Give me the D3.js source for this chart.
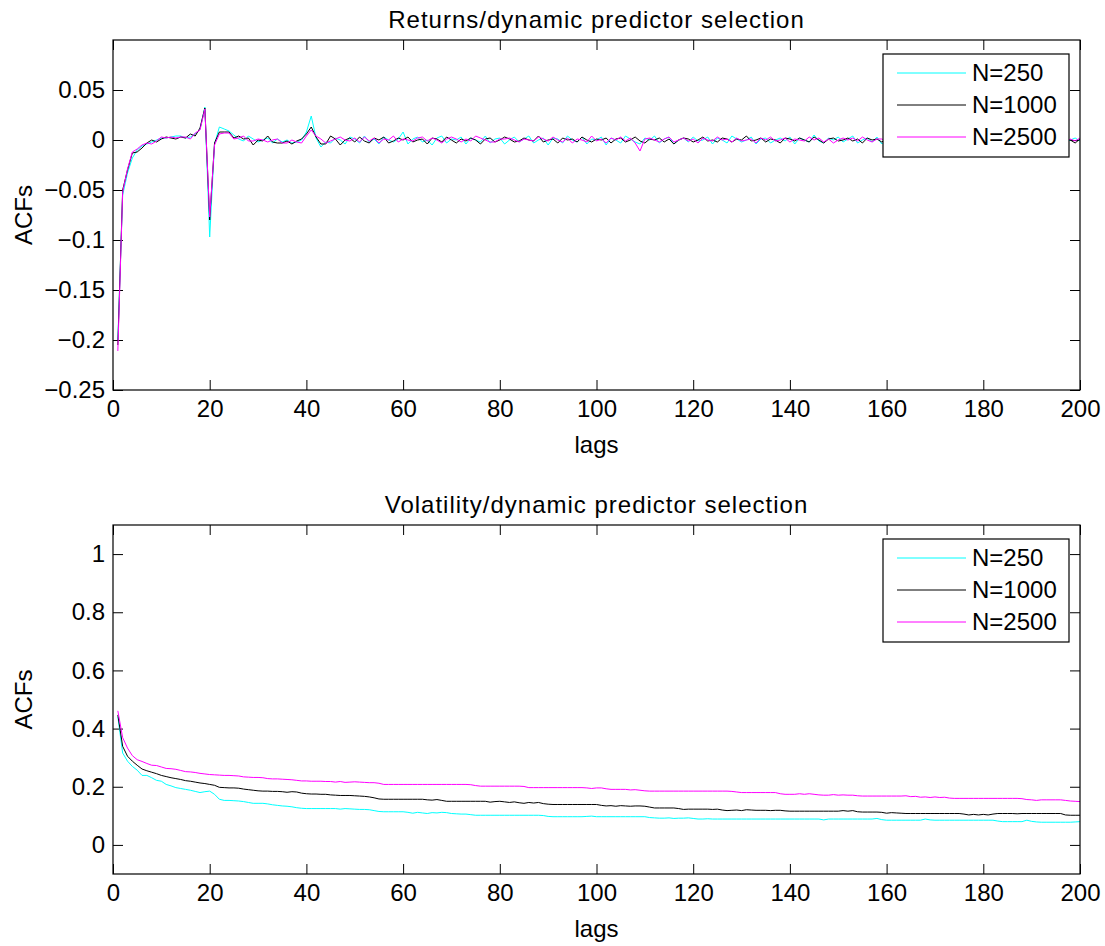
<!DOCTYPE html>
<html>
<head>
<meta charset="utf-8">
<script src="https://cdn.jsdelivr.net/npm/d3@7"></script>
<style>
  body { margin: 0; background: #fff; }
  svg { display: block; }
</style>
</head>
<body>
<div id="chart"></div>
<script>
// lags 1..200
const lags = d3.range(1, 201);

const seriesNames = ['N=250', 'N=1000', 'N=2500'];
const seriesColors = ['#00ffff', '#000000', '#ff00ff'];

// returns ACFs
const ret250 = [
  -0.200, -0.055, -0.033, -0.018, -0.010, -0.006, -0.004, -0.002, 0.000, 0.002,
  0.002, 0.003, 0.004, 0.004, 0.002, 0.003, 0.006, 0.011, 0.033, -0.097,
  -0.004, 0.013, 0.011, 0.009, 0.005, 0.001, -0.001, 0.004, 0.001, -0.002,
  0.000, 0.002, -0.003, 0.001, -0.002, 0.000, -0.003, -0.002, 0.000, 0.008,
  0.024, 0.002, -0.007, -0.002, -0.003, 0.002, 0.000, -0.004, 0.003, 0.001,
  -0.003, 0.004, -0.002, 0.001, -0.004, 0.003, 0.000, -0.002, 0.001, 0.008,
  -0.004, 0.001, 0.003, -0.002, 0.000, -0.005, 0.002, 0.004, -0.003, 0.001,
  0.000, 0.003, -0.004, 0.002, 0.000, -0.002, 0.004, -0.003, 0.001, 0.002,
  -0.004, 0.000, 0.003, -0.002, 0.001, 0.004, -0.003, 0.000, 0.002, -0.005,
  0.002, 0.001, -0.003, 0.004, 0.000, -0.002, 0.003, -0.004, 0.001, 0.000,
  0.003, -0.005, 0.002, 0.000, -0.003, 0.004, 0.001, -0.002, -0.004, 0.002,
  0.000, 0.004, -0.003, 0.001, 0.003, -0.004, 0.000, 0.002, -0.002, 0.003,
  -0.001, 0.000, 0.003, -0.004, 0.002, 0.000, -0.003, 0.004, 0.001, -0.002,
  0.000, 0.003, -0.004, 0.001, 0.002, -0.003, 0.000, 0.002, -0.001, 0.003,
  -0.004, 0.002, 0.000, -0.002, 0.005, -0.001, -0.003, 0.002, 0.000, 0.003,
  -0.002, 0.001, 0.004, -0.003, 0.000, 0.002, -0.002, 0.003, -0.004, 0.001,
  0.002, -0.003, 0.000, 0.004, -0.002, 0.001, -0.003, 0.002, 0.000, -0.002,
  0.003, -0.001, 0.000, 0.002, -0.004, 0.001, 0.003, -0.002, 0.000, 0.002,
  -0.003, 0.001, 0.002, -0.002, 0.000, 0.003, -0.001, 0.001, -0.003, 0.002,
  0.000, -0.002, 0.003, 0.001, -0.001, 0.002, -0.003, 0.000, 0.002, -0.001
];
const ret1000 = [
  -0.205, -0.050, -0.030, -0.013, -0.012, -0.008, -0.003, 0.000, -0.002, 0.001,
  0.003, 0.002, 0.001, 0.003, 0.002, 0.006, 0.004, 0.012, 0.032, -0.080,
  -0.003, 0.008, 0.008, 0.008, 0.002, 0.004, 0.001, 0.002, -0.005, 0.000,
  -0.001, 0.004, -0.002, -0.003, -0.003, -0.001, -0.004, -0.001, 0.001, 0.006,
  0.013, 0.003, -0.004, -0.004, 0.004, 0.001, -0.005, 0.000, 0.002, -0.002,
  0.003, -0.001, -0.003, 0.002, 0.000, 0.003, -0.003, -0.001, 0.002, 0.000,
  0.003, -0.002, 0.000, 0.001, -0.004, 0.002, 0.001, -0.002, 0.003, 0.000,
  -0.003, 0.001, -0.001, 0.002, 0.000, -0.004, 0.001, 0.002, -0.002, 0.000,
  0.003, 0.001, -0.002, -0.001, 0.002, 0.000, -0.001, 0.004, -0.002, 0.000,
  0.001, -0.003, 0.002, 0.000, 0.001, -0.002, 0.003, 0.000, -0.002, 0.001,
  0.000, 0.002, -0.003, 0.001, 0.002, -0.002, 0.000, 0.003, -0.001, -0.003,
  0.001, 0.000, 0.002, -0.002, 0.001, -0.004, 0.000, 0.002, 0.001, -0.002,
  0.000, 0.003, -0.001, 0.000, -0.002, 0.002, 0.001, -0.002, 0.001, 0.000,
  0.004, -0.001, 0.000, 0.002, -0.002, 0.001, 0.000, -0.003, 0.002, 0.001,
  -0.001, 0.002, 0.000, -0.002, 0.003, 0.000, -0.003, 0.001, 0.002, -0.001,
  0.000, 0.002, -0.001, 0.001, -0.003, 0.002, 0.000, 0.001, -0.002, 0.001,
  0.002, -0.001, 0.000, 0.001, -0.002, 0.003, 0.000, -0.001, 0.002, 0.000,
  -0.002, 0.001, 0.003, 0.000, -0.001, 0.002, -0.002, 0.001, 0.000, 0.002,
  -0.001, 0.000, 0.002, -0.002, 0.001, 0.000, -0.001, 0.002, 0.000, -0.002,
  0.001, 0.003, -0.001, 0.000, 0.002, -0.002, 0.001, 0.000, -0.003, 0.001
];
const ret2500 = [
  -0.211, -0.052, -0.029, -0.012, -0.009, -0.005, -0.003, -0.004, -0.001, 0.003,
  0.002, 0.003, 0.002, 0.003, 0.003, 0.001, 0.007, 0.010, 0.031, -0.077,
  -0.005, 0.006, 0.007, 0.007, 0.001, 0.002, 0.004, -0.001, -0.001, 0.001,
  0.000, -0.002, 0.000, 0.001, -0.003, -0.003, 0.000, -0.002, -0.003, 0.004,
  0.010, 0.004, 0.001, -0.003, -0.001, 0.001, 0.003, 0.000, -0.001, 0.002,
  -0.002, 0.003, -0.001, 0.002, -0.003, 0.001, 0.000, 0.004, -0.002, 0.001,
  0.000, -0.001, 0.002, 0.003, -0.001, 0.002, 0.000, -0.003, 0.001, 0.003,
  0.001, -0.002, 0.001, -0.001, 0.004, 0.002, 0.000, -0.002, -0.002, 0.001,
  0.001, 0.002, 0.000, -0.002, 0.001, 0.000, -0.001, 0.003, 0.001, -0.001,
  0.003, 0.000, -0.002, 0.002, -0.003, 0.001, 0.000, -0.002, 0.004, -0.001,
  0.001, -0.003, 0.002, 0.000, 0.003, -0.001, 0.002, -0.003, -0.011, 0.001,
  0.002, 0.000, -0.002, 0.001, 0.003, -0.002, 0.000, 0.002, -0.001, 0.001,
  -0.003, 0.002, 0.000, -0.001, 0.003, 0.000, 0.001, -0.002, 0.002, -0.001,
  0.000, 0.001, -0.003, 0.002, 0.000, 0.003, -0.001, 0.000, 0.002, -0.002,
  0.001, 0.000, -0.001, 0.003, 0.000, 0.002, -0.002, 0.001, -0.003, 0.000,
  0.002, 0.000, 0.002, -0.001, 0.003, 0.000, -0.002, 0.001, 0.001, -0.001,
  0.002, 0.000, -0.002, 0.003, 0.001, 0.000, -0.001, 0.002, 0.000, -0.002,
  0.001, 0.003, 0.000, -0.001, 0.001, 0.002, -0.002, 0.000, 0.002, 0.001,
  -0.001, 0.000, 0.003, -0.002, 0.001, 0.000, 0.002, -0.001, 0.001, 0.000,
  -0.002, 0.002, 0.001, -0.001, 0.000, 0.003, -0.002, 0.001, -0.001, 0.002
];

// volatility ACFs
const vol250 = [
  0.441, 0.316, 0.288, 0.270, 0.257, 0.239, 0.239, 0.231, 0.222, 0.219,
  0.208, 0.203, 0.197, 0.194, 0.191, 0.188, 0.184, 0.180, 0.183, 0.185,
  0.174, 0.157, 0.153, 0.153, 0.152, 0.151, 0.149, 0.146, 0.143, 0.143,
  0.143, 0.141, 0.138, 0.136, 0.134, 0.133, 0.131, 0.128, 0.126, 0.125,
  0.125, 0.125, 0.125, 0.125, 0.125, 0.125, 0.123, 0.125, 0.124, 0.123,
  0.122, 0.122, 0.121, 0.118, 0.115, 0.114, 0.114, 0.114, 0.114, 0.114,
  0.112, 0.109, 0.112, 0.110, 0.108, 0.111, 0.110, 0.112, 0.111, 0.108,
  0.107, 0.106, 0.106, 0.104, 0.102, 0.102, 0.102, 0.102, 0.102, 0.102,
  0.102, 0.102, 0.102, 0.102, 0.102, 0.102, 0.102, 0.102, 0.101, 0.098,
  0.097, 0.097, 0.097, 0.097, 0.097, 0.097, 0.097, 0.098, 0.099, 0.097,
  0.097, 0.097, 0.097, 0.097, 0.097, 0.097, 0.097, 0.097, 0.097, 0.097,
  0.094, 0.093, 0.092, 0.092, 0.093, 0.091, 0.092, 0.092, 0.093, 0.091,
  0.089, 0.089, 0.090, 0.089, 0.089, 0.089, 0.089, 0.089, 0.089, 0.089,
  0.089, 0.089, 0.089, 0.089, 0.089, 0.089, 0.089, 0.089, 0.089, 0.089,
  0.089, 0.089, 0.089, 0.089, 0.089, 0.089, 0.086, 0.089, 0.089, 0.089,
  0.089, 0.089, 0.089, 0.089, 0.089, 0.089, 0.089, 0.091, 0.087, 0.085,
  0.085, 0.085, 0.085, 0.085, 0.085, 0.085, 0.085, 0.089, 0.086, 0.085,
  0.085, 0.085, 0.085, 0.085, 0.085, 0.085, 0.085, 0.085, 0.085, 0.085,
  0.085, 0.085, 0.082, 0.080, 0.080, 0.080, 0.080, 0.080, 0.085, 0.081,
  0.079, 0.078, 0.078, 0.078, 0.078, 0.078, 0.078, 0.078, 0.079, 0.080
];
const vol1000 = [
  0.447, 0.339, 0.305, 0.288, 0.274, 0.261, 0.255, 0.250, 0.245, 0.239,
  0.235, 0.231, 0.228, 0.225, 0.221, 0.219, 0.216, 0.213, 0.211, 0.208,
  0.205, 0.198, 0.197, 0.196, 0.196, 0.195, 0.192, 0.190, 0.188, 0.186,
  0.185, 0.185, 0.184, 0.184, 0.183, 0.181, 0.183, 0.182, 0.178, 0.176,
  0.175, 0.175, 0.174, 0.174, 0.172, 0.171, 0.170, 0.170, 0.170, 0.169,
  0.168, 0.167, 0.165, 0.162, 0.158, 0.157, 0.157, 0.157, 0.157, 0.157,
  0.157, 0.157, 0.157, 0.157, 0.155, 0.154, 0.156, 0.153, 0.150, 0.150,
  0.150, 0.150, 0.150, 0.150, 0.150, 0.150, 0.150, 0.147, 0.149, 0.150,
  0.148, 0.146, 0.148, 0.145, 0.143, 0.146, 0.144, 0.146, 0.142, 0.140,
  0.139, 0.139, 0.139, 0.139, 0.139, 0.139, 0.139, 0.139, 0.139, 0.139,
  0.136, 0.134, 0.135, 0.133, 0.135, 0.134, 0.133, 0.134, 0.134, 0.133,
  0.130, 0.127, 0.127, 0.127, 0.127, 0.127, 0.125, 0.122, 0.123, 0.123,
  0.123, 0.123, 0.123, 0.122, 0.123, 0.120, 0.118, 0.119, 0.120, 0.118,
  0.121, 0.120, 0.119, 0.119, 0.119, 0.118, 0.119, 0.119, 0.117, 0.116,
  0.116, 0.116, 0.116, 0.116, 0.116, 0.116, 0.116, 0.116, 0.116, 0.116,
  0.118, 0.116, 0.118, 0.114, 0.113, 0.113, 0.113, 0.113, 0.112, 0.109,
  0.111, 0.110, 0.109, 0.108, 0.108, 0.108, 0.108, 0.108, 0.108, 0.108,
  0.108, 0.108, 0.108, 0.108, 0.108, 0.106, 0.103, 0.105, 0.103, 0.105,
  0.103, 0.106, 0.108, 0.108, 0.108, 0.108, 0.107, 0.108, 0.108, 0.108,
  0.108, 0.108, 0.108, 0.108, 0.108, 0.108, 0.103, 0.102, 0.102, 0.102
];
const vol2500 = [
  0.461, 0.369, 0.333, 0.307, 0.293, 0.287, 0.280, 0.274, 0.273, 0.268,
  0.263, 0.262, 0.260, 0.256, 0.252, 0.251, 0.249, 0.246, 0.244, 0.242,
  0.241, 0.240, 0.239, 0.239, 0.238, 0.237, 0.234, 0.233, 0.232, 0.232,
  0.231, 0.228, 0.227, 0.227, 0.226, 0.225, 0.224, 0.222, 0.220, 0.220,
  0.219, 0.219, 0.219, 0.218, 0.218, 0.216, 0.218, 0.215, 0.216, 0.217,
  0.216, 0.215, 0.214, 0.214, 0.212, 0.208, 0.208, 0.208, 0.208, 0.208,
  0.208, 0.208, 0.208, 0.208, 0.208, 0.208, 0.208, 0.208, 0.208, 0.208,
  0.208, 0.208, 0.208, 0.207, 0.204, 0.202, 0.202, 0.202, 0.202, 0.202,
  0.202, 0.202, 0.202, 0.202, 0.201, 0.197, 0.197, 0.197, 0.197, 0.197,
  0.197, 0.197, 0.197, 0.197, 0.197, 0.197, 0.197, 0.196, 0.194, 0.196,
  0.196, 0.193, 0.191, 0.191, 0.191, 0.191, 0.189, 0.190, 0.188, 0.186,
  0.185, 0.185, 0.185, 0.185, 0.185, 0.185, 0.185, 0.185, 0.185, 0.185,
  0.185, 0.185, 0.185, 0.185, 0.185, 0.185, 0.185, 0.184, 0.182, 0.180,
  0.180, 0.180, 0.180, 0.180, 0.180, 0.180, 0.180, 0.176, 0.174, 0.174,
  0.174, 0.176, 0.174, 0.176, 0.174, 0.172, 0.171, 0.171, 0.173, 0.171,
  0.172, 0.171, 0.171, 0.169, 0.168, 0.168, 0.168, 0.168, 0.168, 0.168,
  0.168, 0.168, 0.168, 0.169, 0.166, 0.167, 0.164, 0.165, 0.163, 0.165,
  0.163, 0.164, 0.161, 0.160, 0.160, 0.160, 0.160, 0.160, 0.160, 0.160,
  0.160, 0.160, 0.160, 0.160, 0.160, 0.160, 0.160, 0.159, 0.156, 0.155,
  0.153, 0.155, 0.155, 0.155, 0.155, 0.155, 0.153, 0.151, 0.150, 0.149
];

const xTicks = d3.range(0, 201, 20);
const retTicks = [-0.25, -0.2, -0.15, -0.1, -0.05, 0, 0.05];
const volTicks = [0, 0.2, 0.4, 0.6, 0.8, 1];

const width = 1105, height = 946;
const font = '"Liberation Sans", Arial, sans-serif';
const fontSize = 24;
const tickLen = 10;

const svg = d3.select('#chart').append('svg')
  .attr('width', width)
  .attr('height', height)
  .attr('font-family', font)
  .attr('font-size', fontSize);

const fmt = d => (d < 0 ? '\u2212' : '') + Math.abs(d);

function drawPanel(opts) {
  const { top, bottom, yDomain, yTicks, title, series } = opts;
  const left = 113, right = 1080;

  const x = d3.scaleLinear().domain([0, 200]).range([left, right]);
  const y = d3.scaleLinear().domain(yDomain).range([bottom, top]);

  const g = svg.append('g');

  // ticks, drawn inward on all four sides
  g.append('g')
    .attr('transform', `translate(0,${bottom})`)
    .call(d3.axisBottom(x).tickValues(xTicks).tickSize(-tickLen).tickPadding(7).tickFormat(d3.format('d')))
    .call(a => a.select('.domain').remove())
    .call(a => a.selectAll('text').attr('font-size', fontSize).attr('font-family', font).attr('fill', '#000').attr('dy', '0.85em'));
  g.append('g')
    .attr('transform', `translate(0,${top})`)
    .call(d3.axisTop(x).tickValues(xTicks).tickSize(-tickLen).tickFormat(''))
    .call(a => a.select('.domain').remove());
  g.append('g')
    .attr('transform', `translate(${left},0)`)
    .call(d3.axisLeft(y).tickValues(yTicks).tickSize(-tickLen).tickPadding(8).tickFormat(fmt))
    .call(a => a.select('.domain').remove())
    .call(a => a.selectAll('text').attr('font-size', fontSize).attr('font-family', font).attr('fill', '#000'));
  g.append('g')
    .attr('transform', `translate(${right},0)`)
    .call(d3.axisRight(y).tickValues(yTicks).tickSize(-tickLen).tickFormat(''))
    .call(a => a.select('.domain').remove());
  g.selectAll('.tick line').attr('stroke', '#000');

  // lines
  const line = d3.line()
    .x((d, i) => x(lags[i]))
    .y(d => y(d));

  series.forEach((s, i) => {
    g.append('path')
      .datum(s)
      .attr('fill', 'none')
      .attr('stroke', seriesColors[i])
      .attr('stroke-width', 1)
      .attr('d', line);
  });

  // box
  g.append('rect')
    .attr('x', left).attr('y', top)
    .attr('width', right - left).attr('height', bottom - top)
    .attr('fill', 'none').attr('stroke', '#000').attr('stroke-width', 1.2);

  // title
  svg.append('text')
    .attr('x', (left + right) / 2)
    .attr('y', top - 12)
    .attr('text-anchor', 'middle')
    .attr('letter-spacing', 1)
    .text(title);

  // axis labels
  svg.append('text')
    .attr('x', (left + right) / 2)
    .attr('y', bottom + 63)
    .attr('text-anchor', 'middle')
    .text('lags');
  svg.append('text')
    .attr('transform', `translate(32,${(top + bottom) / 2}) rotate(-90)`)
    .attr('text-anchor', 'middle')
    .text('ACFs');

  // legend
  const lx = 883, ly = top + 14, lw = 186, lh = 103;
  const leg = svg.append('g');
  leg.append('rect')
    .attr('x', lx).attr('y', ly).attr('width', lw).attr('height', lh)
    .attr('fill', '#fff').attr('stroke', '#000').attr('stroke-width', 1.2);
  seriesNames.forEach((name, i) => {
    const ry = ly + 19 + i * 32;
    leg.append('line')
      .attr('x1', lx + 14).attr('x2', lx + 83)
      .attr('y1', ry).attr('y2', ry)
      .attr('stroke', seriesColors[i]).attr('stroke-width', 1);
    leg.append('text')
      .attr('x', lx + 89).attr('y', ry + 8)
      .text(name);
  });
}

drawPanel({
  top: 40, bottom: 390,
  yDomain: [-0.25, 0.1],
  yTicks: retTicks,
  title: 'Returns/dynamic predictor selection',
  series: [ret250, ret1000, ret2500]
});

drawPanel({
  top: 525, bottom: 874,
  yDomain: [-0.1, 1.1],
  yTicks: volTicks,
  title: 'Volatility/dynamic predictor selection',
  series: [vol250, vol1000, vol2500]
});
</script>
</body>
</html>
